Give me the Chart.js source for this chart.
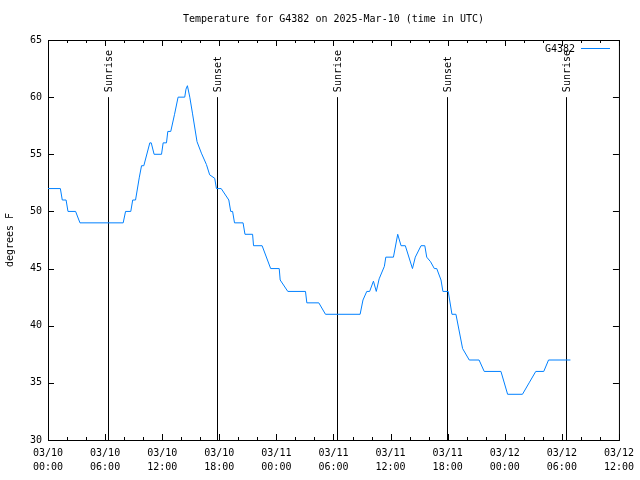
<!DOCTYPE html>
<html>
<head>
<meta charset="utf-8">
<script src="https://cdn.jsdelivr.net/npm/chart.js@4/dist/chart.umd.min.js"></script>
<style>
 body { margin: 0; background: #fff; }
 canvas { display: block; }
</style>
</head>
<body>
<canvas id="c" width="640" height="480"></canvas>
<script>
// hours since 03/10 00:00 UTC, temperature in F
const hours = [0, 1.3, 1.5, 1.9, 2.1, 2.9, 3.36, 7.9, 8.15, 8.7, 8.9, 9.2, 9.6, 9.83, 10.07, 10.7, 10.85,
 11.15, 11.93, 12.1, 12.45, 12.59, 12.9, 13.3, 13.67, 14.37, 14.5, 14.65, 14.9, 15.18, 15.66, 16.12,
 16.65, 16.99, 17.52, 17.7, 18.2, 19.0, 19.2, 19.4, 19.6, 20.5, 20.7, 21.5, 21.6, 22.5, 23.4, 24.3,
 24.4, 25.2, 27.06, 27.2, 28.46, 29.16, 32.8, 33.1, 33.5, 33.8, 34.2, 34.5, 34.8, 35.35, 35.5, 36.3,
 36.75, 37.1, 37.55, 38.3, 38.6, 39.2, 39.6, 39.8, 40.2, 40.6, 40.85, 41.3, 41.5, 42.06, 42.45, 42.87,
 43.57, 44.27, 45.3, 45.84, 47.6, 48.3, 49.86, 50.56, 51.26, 52.1, 52.6, 54.9];
const temps = [52, 52, 51, 51, 50, 50, 49, 49, 50, 50, 51, 51, 53, 54, 54, 56, 56,
 55, 55, 56, 56, 57, 57, 58.5, 60, 60, 60.7, 61, 60, 58.6, 56.1, 55.1,
 54.1, 53.2, 52.9, 52, 52, 51, 50, 50, 49, 49, 48, 48, 47, 47, 45, 45,
 44, 43, 43, 42, 42, 41, 41, 42.25, 43, 43, 43.9, 43, 44.1, 45.2, 46, 46,
 48, 47, 47, 45, 46, 47, 47, 46, 45.6, 45, 45, 44, 43, 43, 41, 41,
 38, 37, 37, 36, 36, 34, 34, 35, 36, 36, 37, 37];

const eventHours = [6.32, 17.76, 30.35, 41.89, 54.48];
const eventNames = ['Sunrise', 'Sunset', 'Sunrise', 'Sunset', 'Sunrise'];

const xTickLabels = [['03/10', '00:00'], ['03/10', '06:00'], ['03/10', '12:00'], ['03/10', '18:00'],
 ['03/11', '00:00'], ['03/11', '06:00'], ['03/11', '12:00'], ['03/11', '18:00'],
 ['03/12', '00:00'], ['03/12', '06:00'], ['03/12', '12:00']];

const titleText = 'Temperature for G4382 on 2025-Mar-10 (time in UTC)';
const seriesName = 'G4382';
const lineColor = 'rgb(0,128,255)';
const FONT = '10px "DejaVu Sans Mono", monospace';

const points = hours.map((h, i) => ({ x: h, y: temps[i] }));

// frame, inside ticks, sun lines, title and key, like gnuplot
const gnuplotLook = {
 id: 'gnuplotLook',
 beforeDatasetsDraw(chart) {
  const ctx = chart.ctx, a = chart.chartArea;
  const xs = chart.scales.x, ys = chart.scales.y;
  ctx.save();
  ctx.strokeStyle = '#000';
  ctx.lineWidth = 1;
  ctx.beginPath();
  // x ticks every 2 h, major every 6 h
  for (let h = 0; h <= 60; h += 2) {
   const px = Math.round(xs.getPixelForValue(h)) + 0.5;
   const len = (h % 6 === 0) ? 6 : 3;
   ctx.moveTo(px, a.bottom); ctx.lineTo(px, a.bottom - len);
   ctx.moveTo(px, a.top); ctx.lineTo(px, a.top + len);
  }
  for (let v = 30; v <= 65; v += 5) {
   const py = Math.round(ys.getPixelForValue(v)) + 0.5;
   ctx.moveTo(a.left, py); ctx.lineTo(a.left + 6, py);
   ctx.moveTo(a.right, py); ctx.lineTo(a.right - 6, py);
  }
  // sunrise / sunset markers
  eventHours.forEach(h => {
   const px = Math.round(xs.getPixelForValue(h)) + 0.5;
   ctx.moveTo(px, a.bottom);
   ctx.lineTo(px, ys.getPixelForValue(60));
  });
  ctx.stroke();
  ctx.strokeRect(a.left + 0.5, a.top + 0.5, a.right - a.left, a.bottom - a.top);

  ctx.fillStyle = '#000';
  ctx.font = FONT;
  eventHours.forEach((h, i) => {
   const px = Math.round(xs.getPixelForValue(h)) + 0.5;
   ctx.save();
   ctx.translate(px, ys.getPixelForValue(60) - 5);
   ctx.rotate(-Math.PI / 2);
   ctx.textAlign = 'left';
   ctx.textBaseline = 'middle';
   ctx.fillText(eventNames[i], 0, 1);
   ctx.restore();
  });

  ctx.textAlign = 'center';
  ctx.textBaseline = 'middle';
  ctx.fillText(titleText, (a.left + a.right) / 2, 19);

  ctx.textAlign = 'right';
  ctx.fillText(seriesName, 575, 49);
  ctx.strokeStyle = lineColor;
  ctx.beginPath();
  ctx.moveTo(581, 48.5); ctx.lineTo(610, 48.5);
  ctx.stroke();
  ctx.restore();
 }
};

new Chart(document.getElementById('c'), {
 type: 'line',
 data: {
  datasets: [{
   label: seriesName,
   data: points,
   borderColor: lineColor,
   borderWidth: 1,
   pointRadius: 0,
   tension: 0,
   fill: false
  }]
 },
 options: {
  responsive: false,
  animation: false,
  layout: { padding: { top: 40, right: 20, left: 0, bottom: 0 } },
  plugins: { legend: { display: false }, tooltip: { enabled: false }, title: { display: false } },
  scales: {
   x: {
    type: 'linear',
    min: 0, max: 60,
    grid: { display: false, drawTicks: false, tickLength: 0 },
    border: { display: false },
    afterFit: s => { s.height = 40; },
    ticks: {
     stepSize: 6,
     autoSkip: false,
     maxRotation: 0,
     padding: 6,
     color: '#000',
     font: { family: '"DejaVu Sans Mono", monospace', size: 10, lineHeight: 1.4 },
     callback: v => xTickLabels[Math.round(v / 6)]
    }
   },
   y: {
    min: 30, max: 65,
    grid: { display: false, drawTicks: false, tickLength: 0 },
    border: { display: false },
    afterFit: s => { s.width = 48; },
    title: {
     display: true,
     text: 'degrees F',
     color: '#000',
     padding: 4,
     font: { family: '"DejaVu Sans Mono", monospace', size: 10 }
    },
    ticks: {
     stepSize: 5,
     padding: 6,
     color: '#000',
     font: { family: '"DejaVu Sans Mono", monospace', size: 10 }
    }
   }
  }
 },
 plugins: [gnuplotLook]
});
</script>
</body>
</html>
